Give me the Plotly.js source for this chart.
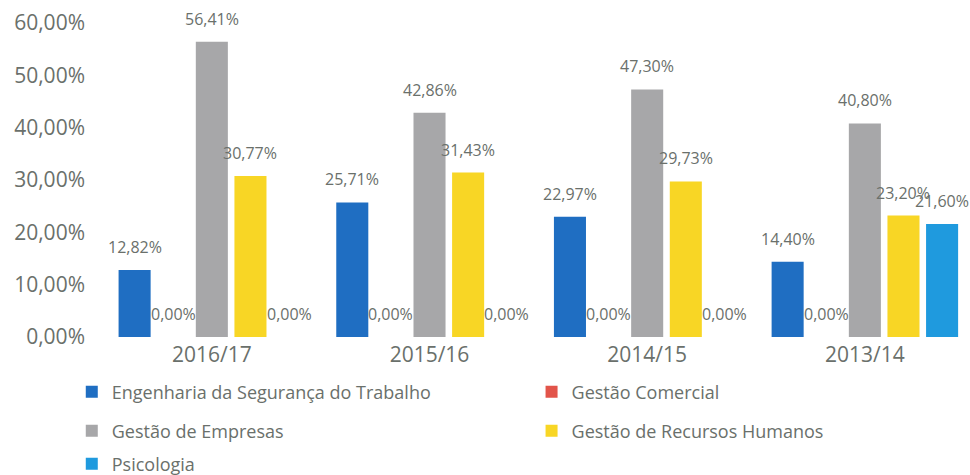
<!DOCTYPE html>
<html><head><meta charset="utf-8">
<script src="https://cdn.plot.ly/plotly-3.0.1.min.js"></script>
<style>html,body{margin:0;padding:0;background:#fff}</style>
</head><body><div id="chart" style="width:970px;height:475px"></div>
<script>
const categories = ['2016/17', '2015/16', '2014/15', '2013/14'];
const seriesNames = ['Engenharia da Segurança do Trabalho', 'Gestão Comercial', 'Gestão de Empresas', 'Gestão de Recursos Humanos', 'Psicologia'];
const engenharia = [12.82, 25.71, 22.97, 14.40];
const gestaoComercial = [0.00, 0.00, 0.00, 0.00];
const gestaoEmpresas = [56.41, 42.86, 47.30, 40.80];
const gestaoRH = [30.77, 31.43, 29.73, 23.20];
const psicologia = [0.00, 0.00, 0.00, 21.60];
const yTickValues = [0, 10, 20, 30, 40, 50, 60];
const yTickLabels = ['0,00%', '10,00%', '20,00%', '30,00%', '40,00%', '50,00%', '60,00%'];

const seriesValues = [engenharia, gestaoComercial, gestaoEmpresas, gestaoRH, psicologia];
const colors = ['#1f6ec2', '#e2544a', '#a7a7a9', '#f8d625', '#1f9ade'];
const textColor = '#6a706b';
const font = '"Open Sans", "Noto Sans", sans-serif';

const bargap = 0.113;
const nSeries = seriesValues.length;
const slot = (1 - bargap) / nSeries;

const fmt = v => v.toFixed(2).replace('.', ',') + '%';

const legendIds = seriesValues.map((_, i) => i === 0 ? 'legend' : 'legend' + (i + 1));

const traces = seriesValues.map((vals, i) => ({
  type: 'bar',
  name: seriesNames[i],
  x: categories,
  y: vals,
  marker: {color: colors[i]},
  legend: legendIds[i],
  hoverinfo: 'none'
}));

const annotations = [];
seriesValues.forEach((vals, i) => {
  vals.forEach((v, j) => {
    annotations.push({
      x: j + (i - (nSeries - 1) / 2) * slot,
      y: v,
      xref: 'x', yref: 'y',
      text: fmt(v),
      showarrow: false,
      yanchor: 'bottom',
      yshift: 10,
      font: {family: font, size: 16, color: textColor}
    });
  });
});

// legend grid: two columns, three rows
const legendCols = [0.074, 0.548, 0.074, 0.548, 0.074];
const legendRows = [392, 392, 431, 431, 464];

const layout = {
  width: 970, height: 475,
  margin: {l: 103, r: 0, t: 23, b: 138, pad: 0},
  paper_bgcolor: '#ffffff',
  plot_bgcolor: '#ffffff',
  separators: ',.',
  barmode: 'group',
  bargap: bargap,
  bargroupgap: 0.17,
  font: {family: font, color: textColor},
  xaxis: {
    type: 'category',
    range: [-0.5, 3.483],
    showgrid: false, zeroline: false, showline: false,
    ticks: '',
    ticklabelstandoff: 3,
    tickfont: {family: font, size: 21, color: textColor},
    fixedrange: true
  },
  yaxis: {
    range: [0, 60],
    tickvals: yTickValues,
    ticktext: yTickLabels,
    showgrid: false, zeroline: false, showline: false,
    ticks: '',
    ticklabelstandoff: 17,
    tickfont: {family: font, size: 21, color: textColor},
    fixedrange: true
  },
  showlegend: true,
  annotations: annotations
};

legendIds.forEach((id, i) => {
  layout[id] = {
    orientation: 'h',
    xref: 'container', yref: 'container',
    x: legendCols[i], xanchor: 'left',
    y: 1 - legendRows[i] / 475, yanchor: 'middle',
    bgcolor: 'rgba(0,0,0,0)',
    font: {family: font, size: 18, color: textColor},
    itemclick: false, itemdoubleclick: false
  };
});

Plotly.newPlot('chart', traces, layout, {displayModeBar: false, staticPlot: true});
</script></body></html>
